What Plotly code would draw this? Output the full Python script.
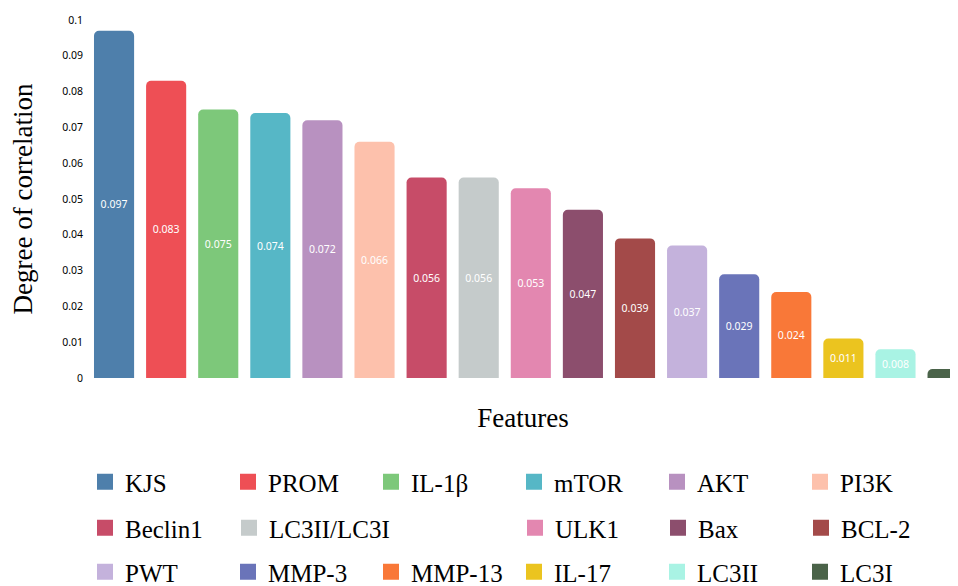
import plotly.graph_objects as go

features = ["KJS", "PROM", "IL-1β", "mTOR", "AKT", "PI3K", "Beclin1", "LC3II/LC3I",
            "ULK1", "Bax", "BCL-2", "PWT", "MMP-3", "MMP-13", "IL-17", "LC3II", "LC3I"]
values = [0.097, 0.083, 0.075, 0.074, 0.072, 0.066, 0.056, 0.056,
          0.053, 0.047, 0.039, 0.037, 0.029, 0.024, 0.011, 0.008, 0.0025]
colors = ["#4e7fab", "#ee4f55", "#7dc87a", "#56b7c6", "#b891c0", "#fdc1ac", "#c74c68", "#c5cbcb",
          "#e387b0", "#8c4e6d", "#a34a49", "#c4b2dc", "#6a74b9", "#f97838", "#ebc41f", "#a9f3e4", "#4a6349"]
y_ticks = [0, 0.01, 0.02, 0.03, 0.04, 0.05, 0.06, 0.07, 0.08, 0.09, 0.1]
y_tick_labels = ["0", "0.01", "0.02", "0.03", "0.04", "0.05", "0.06", "0.07", "0.08", "0.09", "0.1"]

# legend groups: (legend id, features, left x in page px, row centre y in page px)
legend_rows = [
    ("legend", ["KJS", "PROM", "IL-1β", "mTOR", "AKT", "PI3K"], 85, 482),
    ("legend2", ["Beclin1"], 85, 528),
    ("legend3", ["LC3II/LC3I"], 229, 528),
    ("legend4", ["ULK1", "Bax", "BCL-2"], 515, 528),
    ("legend5", ["PWT", "MMP-3", "MMP-13", "IL-17", "LC3II", "LC3I"], 85, 572),
]
feat_legend = {f: lg for lg, fs, _, _ in legend_rows for f in fs}

# page offset of the plot div (browser default body margin)
OFF = 8
W, H = 958 - OFF, 586 - OFF

fig = go.Figure()
for f, v, c in zip(features, values, colors):
    fig.add_trace(go.Bar(
        x=[f], y=[v], name=f, width=0.77,
        marker=dict(color=c, cornerradius=5, line=dict(width=0)),
        text=[f"{v:.3f}"], textposition="inside", insidetextanchor="middle",
        textfont=dict(color="white", size=10.5, family="Noto Sans"),
        showlegend=False, legendgroup=f, hoverinfo="x+y",
    ))
    # legend swatch
    fig.add_trace(go.Scatter(
        x=[None], y=[None], mode="markers", name=f, legendgroup=f,
        legend=feat_legend[f],
        marker=dict(symbol="square", size=16, color=c),
        showlegend=True,
    ))

legend_common = dict(
    orientation="h", xref="container", yref="container", xanchor="left", yanchor="middle",
    font=dict(family="Liberation Serif", size=25, color="black"),
    entrywidth=98, entrywidthmode="pixels", itemwidth=30, bgcolor="rgba(0,0,0,0)",
    traceorder="normal",
)
legend_layout = {}
for lg, fs, lx, ly in legend_rows:
    cfg = dict(legend_common)
    if len(fs) == 1:
        cfg["entrywidth"] = 160
    legend_layout[lg] = dict(x=(lx - OFF) / W, y=1 - (ly - OFF) / H, **cfg)

fig.update_layout(
    width=W, height=H,
    margin=dict(l=88 - OFF, r=0, t=20 - OFF, b=H - (378 - OFF), autoexpand=False),
    paper_bgcolor="white", plot_bgcolor="white",
    barmode="overlay",
    uniformtext=dict(minsize=10, mode="hide"),
    xaxis=dict(
        type="category", range=[-0.5, 16.2], showticklabels=False, showgrid=False,
        zeroline=False, showline=False, ticks="",
        title=dict(text="Features", font=dict(family="Liberation Serif", size=27, color="black"), standoff=30),
    ),
    yaxis=dict(
        range=[0, 0.1], tickvals=y_ticks, ticktext=y_tick_labels, showgrid=False,
        zeroline=False, showline=False, ticks="", ticklabelstandoff=4,
        tickfont=dict(family="Noto Sans", size=10.5, color="black"),
        title=dict(text="Degree of correlation", font=dict(family="Liberation Serif", size=27, color="black"), standoff=24),
    ),
    **legend_layout,
)

fig.write_html("out.html")
